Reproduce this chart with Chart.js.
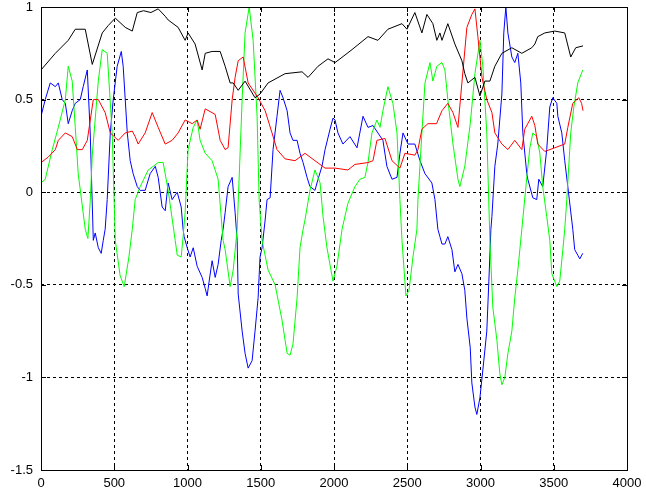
<!DOCTYPE html>
<html>
<head>
<meta charset="utf-8">
<script src="https://cdn.jsdelivr.net/npm/chart.js@4.4.1/dist/chart.umd.min.js"></script>
<style>
  html, body { margin: 0; padding: 0; background: #fff; }
  #wrap { width: 646px; height: 501px; }
</style>
</head>
<body>
<div id="wrap"><canvas id="chart" width="646" height="501"></canvas></div>
<script>
// tick labels
const xTicks = [0, 500, 1000, 1500, 2000, 2500, 3000, 3500, 4000]
const yTicks = [-1.5, -1, -0.5, 0, 0.5, 1]

// series (sample index, value)
const blackX = [0, 98, 186, 234, 302, 350, 418, 459, 507, 575, 623, 657, 700, 750, 800, 848, 868, 936, 984, 1004, 1052, 1100, 1121, 1168, 1223, 1257, 1291, 1312, 1346, 1393, 1461, 1495, 1550, 1666, 1782, 1823, 1891, 1959, 2007, 2041, 2123, 2232, 2300, 2368, 2464, 2498, 2552, 2600, 2634, 2675, 2702, 2723, 2737, 2777, 2825, 2873, 2893, 2914, 2962, 2996, 3030, 3064, 3098, 3146, 3214, 3282, 3350, 3371, 3391, 3439, 3507, 3575, 3616, 3650, 3700]
const blackY = [0.66, 0.75, 0.82, 0.88, 0.88, 0.69, 0.86, 0.9, 0.94, 0.89, 0.87, 0.97, 0.98, 0.97, 0.99, 0.95, 0.93, 0.89, 0.82, 0.86, 0.8, 0.66, 0.75, 0.76, 0.76, 0.68, 0.59, 0.59, 0.55, 0.6, 0.51, 0.53, 0.59, 0.64, 0.65, 0.62, 0.68, 0.72, 0.7, 0.72, 0.77, 0.84, 0.82, 0.88, 0.91, 0.88, 0.97, 0.86, 0.96, 0.91, 0.82, 0.86, 0.82, 0.91, 0.8, 0.71, 0.64, 0.59, 0.62, 0.52, 0.6, 0.6, 0.68, 0.75, 0.78, 0.75, 0.78, 0.8, 0.84, 0.86, 0.87, 0.86, 0.73, 0.78, 0.79]

const redX = [0, 50, 98, 118, 166, 213, 248, 282, 316, 357, 391, 438, 473, 527, 575, 623, 643, 663, 711, 759, 800, 848, 895, 936, 984, 1032, 1066, 1086, 1121, 1189, 1223, 1257, 1277, 1305, 1325, 1346, 1380, 1414, 1482, 1530, 1577, 1611, 1666, 1734, 1802, 1870, 1939, 2007, 2095, 2143, 2232, 2266, 2293, 2348, 2396, 2450, 2484, 2552, 2573, 2600, 2641, 2700, 2737, 2777, 2812, 2846, 2873, 2907, 2941, 2962, 2982, 3010, 3043, 3078, 3098, 3146, 3187, 3234, 3282, 3302, 3350, 3371, 3391, 3439, 3507, 3575, 3596, 3630, 3671, 3690, 3700]
const redY = [0.16, 0.19, 0.23, 0.28, 0.32, 0.3, 0.23, 0.23, 0.28, 0.5, 0.5, 0.43, 0.32, 0.28, 0.32, 0.33, 0.3, 0.26, 0.32, 0.43, 0.35, 0.26, 0.28, 0.32, 0.39, 0.37, 0.39, 0.34, 0.45, 0.42, 0.28, 0.23, 0.24, 0.5, 0.62, 0.71, 0.73, 0.59, 0.51, 0.44, 0.32, 0.23, 0.18, 0.17, 0.21, 0.17, 0.13, 0.13, 0.12, 0.15, 0.16, 0.17, 0.28, 0.29, 0.17, 0.13, 0.21, 0.2, 0.23, 0.34, 0.37, 0.37, 0.44, 0.48, 0.43, 0.35, 0.59, 0.89, 0.96, 0.99, 0.84, 0.62, 0.5, 0.43, 0.32, 0.26, 0.23, 0.28, 0.23, 0.34, 0.41, 0.36, 0.26, 0.22, 0.24, 0.26, 0.35, 0.48, 0.51, 0.48, 0.44]

const greenX = [0, 29, 77, 118, 166, 186, 213, 234, 254, 302, 320, 336, 350, 391, 418, 452, 486, 507, 540, 568, 600, 623, 643, 677, 732, 800, 834, 868, 916, 930, 957, 970, 984, 1004, 1039, 1066, 1086, 1121, 1168, 1209, 1243, 1257, 1291, 1312, 1339, 1373, 1393, 1421, 1448, 1475, 1489, 1509, 1550, 1598, 1645, 1680, 1700, 1720, 1748, 1768, 1789, 1802, 1836, 1870, 1905, 1925, 1952, 1993, 2020, 2055, 2095, 2143, 2177, 2211, 2232, 2259, 2293, 2314, 2334, 2368, 2402, 2430, 2450, 2464, 2491, 2512, 2539, 2566, 2573, 2600, 2621, 2655, 2675, 2702, 2737, 2757, 2777, 2812, 2846, 2859, 2893, 2930, 2962, 2996, 3016, 3043, 3064, 3084, 3112, 3132, 3146, 3166, 3187, 3214, 3234, 3255, 3282, 3316, 3337, 3357, 3384, 3405, 3425, 3452, 3473, 3487, 3521, 3541, 3562, 3575, 3589, 3616, 3637, 3664, 3698]
const greenY = [0.05, 0.07, 0.23, 0.35, 0.5, 0.68, 0.6, 0.35, 0.1, -0.2, -0.25, -0.05, 0.2, 0.6, 0.77, 0.75, 0.32, -0.26, -0.45, -0.51, -0.35, -0.2, -0.04, 0.03, 0.12, 0.16, 0.16, 0.01, -0.26, -0.34, -0.35, -0.24, -0.11, 0.23, 0.35, 0.39, 0.28, 0.21, 0.17, 0.07, -0.26, -0.31, -0.51, -0.42, -0.2, 0.5, 0.86, 1.0, 0.82, 0.41, -0.04, -0.26, -0.42, -0.5, -0.69, -0.87, -0.88, -0.82, -0.57, -0.3, -0.2, -0.15, 0.01, 0.12, 0.05, -0.13, -0.3, -0.48, -0.4, -0.2, -0.06, 0.03, 0.07, 0.08, 0.16, 0.32, 0.39, 0.35, 0.44, 0.57, 0.48, 0.32, -0.04, -0.26, -0.56, -0.53, -0.35, -0.2, -0.04, 0.32, 0.59, 0.7, 0.6, 0.68, 0.7, 0.66, 0.5, 0.26, 0.07, 0.03, 0.14, 0.37, 0.64, 0.82, 0.68, 0.32, -0.26, -0.62, -0.8, -0.98, -1.04, -1.0, -0.87, -0.75, -0.57, -0.42, -0.2, 0.08, 0.24, 0.32, 0.3, 0.21, 0.03, -0.13, -0.26, -0.44, -0.51, -0.48, -0.31, -0.2, -0.04, 0.32, 0.46, 0.59, 0.66]

const blueX = [0, 29, 63, 98, 118, 145, 166, 186, 213, 234, 268, 288, 316, 336, 357, 370, 391, 411, 425, 438, 452, 473, 493, 520, 548, 561, 589, 609, 629, 657, 677, 711, 745, 780, 800, 827, 848, 868, 895, 930, 957, 970, 977, 998, 1018, 1039, 1066, 1100, 1121, 1134, 1148, 1168, 1189, 1209, 1230, 1243, 1257, 1277, 1305, 1325, 1339, 1346, 1373, 1393, 1414, 1441, 1461, 1482, 1495, 1509, 1530, 1543, 1564, 1584, 1611, 1632, 1652, 1680, 1700, 1720, 1748, 1768, 1789, 1816, 1836, 1870, 1891, 1918, 1939, 1973, 1993, 2007, 2027, 2061, 2109, 2157, 2198, 2232, 2266, 2300, 2334, 2361, 2396, 2430, 2450, 2471, 2505, 2552, 2587, 2621, 2668, 2689, 2709, 2723, 2737, 2757, 2777, 2805, 2825, 2846, 2873, 2893, 2907, 2930, 2941, 2962, 2975, 2996, 3016, 3043, 3057, 3071, 3078, 3098, 3118, 3146, 3159, 3173, 3187, 3214, 3234, 3255, 3275, 3289, 3316, 3323, 3357, 3384, 3398, 3425, 3452, 3473, 3493, 3521, 3528, 3555, 3575, 3596, 3630, 3643, 3664, 3678, 3698]
const blueY = [0.41, 0.5, 0.59, 0.57, 0.59, 0.5, 0.48, 0.37, 0.44, 0.48, 0.5, 0.57, 0.66, 0.32, -0.26, -0.22, -0.3, -0.33, -0.26, -0.2, -0.04, 0.32, 0.5, 0.68, 0.76, 0.68, 0.32, 0.17, 0.1, 0.03, 0.01, 0.01, 0.1, 0.14, 0.08, -0.08, -0.1, 0.05, -0.04, 0.0, -0.08, -0.2, -0.24, -0.3, -0.35, -0.3, -0.4, -0.46, -0.52, -0.56, -0.48, -0.37, -0.46, -0.39, -0.26, -0.2, -0.11, 0.03, 0.08, -0.11, -0.26, -0.55, -0.75, -0.87, -0.95, -0.91, -0.75, -0.57, -0.35, -0.3, -0.15, -0.04, -0.03, 0.23, 0.41, 0.55, 0.51, 0.44, 0.32, 0.28, 0.28, 0.21, 0.16, 0.08, 0.03, 0.01, 0.07, 0.14, 0.23, 0.34, 0.4, 0.39, 0.32, 0.26, 0.3, 0.24, 0.41, 0.35, 0.36, 0.32, 0.28, 0.14, 0.07, 0.08, 0.21, 0.32, 0.26, 0.26, 0.17, 0.1, 0.05, -0.04, -0.2, -0.24, -0.28, -0.28, -0.24, -0.31, -0.43, -0.39, -0.44, -0.53, -0.68, -0.84, -1.03, -1.16, -1.2, -1.11, -0.96, -0.75, -0.48, -0.2, -0.13, 0.14, 0.26, 0.53, 0.86, 1.0, 0.86, 0.73, 0.7, 0.75, 0.59, 0.32, 0.1, 0.07, -0.03, -0.04, 0.07, 0.03, 0.23, 0.46, 0.51, 0.48, 0.41, 0.32, 0.17, 0.03, -0.2, -0.31, -0.34, -0.36, -0.33]

function pts(xs, ys) {
    return xs.map((x, i) => ({ x: x, y: ys[i] }))
}

function line(xs, ys, color) {
    return {
        data: pts(xs, ys),
        borderColor: color,
        borderWidth: 1,
        pointRadius: 0,
        fill: false,
        tension: 0
    }
}

// MATLAB style box with short inward ticks
const boxPlugin = {
    id: 'box',
    afterDraw(chart) {
        const { ctx, chartArea: a, scales } = chart
        ctx.save()
        ctx.strokeStyle = '#000'
        ctx.lineWidth = 1
        ctx.setLineDash([])
        ctx.beginPath()
        xTicks.forEach(v => {
            const px = Math.round(scales.x.getPixelForValue(v)) + 0.5
            ctx.moveTo(px, a.bottom); ctx.lineTo(px, a.bottom - 5)
            ctx.moveTo(px, a.top); ctx.lineTo(px, a.top + 5)
        })
        yTicks.forEach(v => {
            const py = Math.round(scales.y.getPixelForValue(v)) + 0.5
            ctx.moveTo(a.left, py); ctx.lineTo(a.left + 5, py)
            ctx.moveTo(a.right, py); ctx.lineTo(a.right - 5, py)
        })
        ctx.stroke()
        ctx.strokeRect(Math.round(a.left) + 0.5, Math.round(a.top) + 0.5,
            Math.round(a.right - a.left), Math.round(a.bottom - a.top))
        ctx.restore()
    }
}

const tickFont = { family: '"Liberation Sans", Arial, sans-serif', size: 13 }

new Chart(document.getElementById('chart'), {
    type: 'line',
    data: {
        datasets: [
            line(blackX, blackY, '#000000'),
            line(redX, redY, '#ff0000'),
            line(greenX, greenY, '#00ff00'),
            line(blueX, blueY, '#0000ff')
        ]
    },
    options: {
        responsive: false,
        animation: false,
        events: [],
        layout: { padding: { left: 0, right: 19, top: 7, bottom: 0 } },
        plugins: { legend: { display: false }, tooltip: { enabled: false } },
        scales: {
            x: {
                type: 'linear',
                min: xTicks[0],
                max: xTicks[xTicks.length - 1],
                afterFit: s => { s.height = 31; s.paddingLeft = 0; s.paddingRight = 0 },
                afterBuildTicks: s => { s.ticks = xTicks.map(v => ({ value: v })) },
                ticks: { color: '#000', font: tickFont, padding: 6, maxRotation: 0, callback: v => String(v) },
                grid: { color: '#000', lineWidth: 1, tickLength: 0 },
                border: { display: false, dash: [3, 3] }
            },
            y: {
                type: 'linear',
                min: yTicks[0],
                max: yTicks[yTicks.length - 1],
                afterFit: s => { s.width = 41; s.paddingTop = 0; s.paddingBottom = 0 },
                afterBuildTicks: s => { s.ticks = yTicks.map(v => ({ value: v })) },
                ticks: { color: '#000', font: tickFont, padding: 8, callback: v => String(v) },
                grid: { color: '#000', lineWidth: 1, tickLength: 0 },
                border: { display: false, dash: [3, 3] }
            }
        }
    },
    plugins: [boxPlugin]
})
</script>
</body>
</html>
